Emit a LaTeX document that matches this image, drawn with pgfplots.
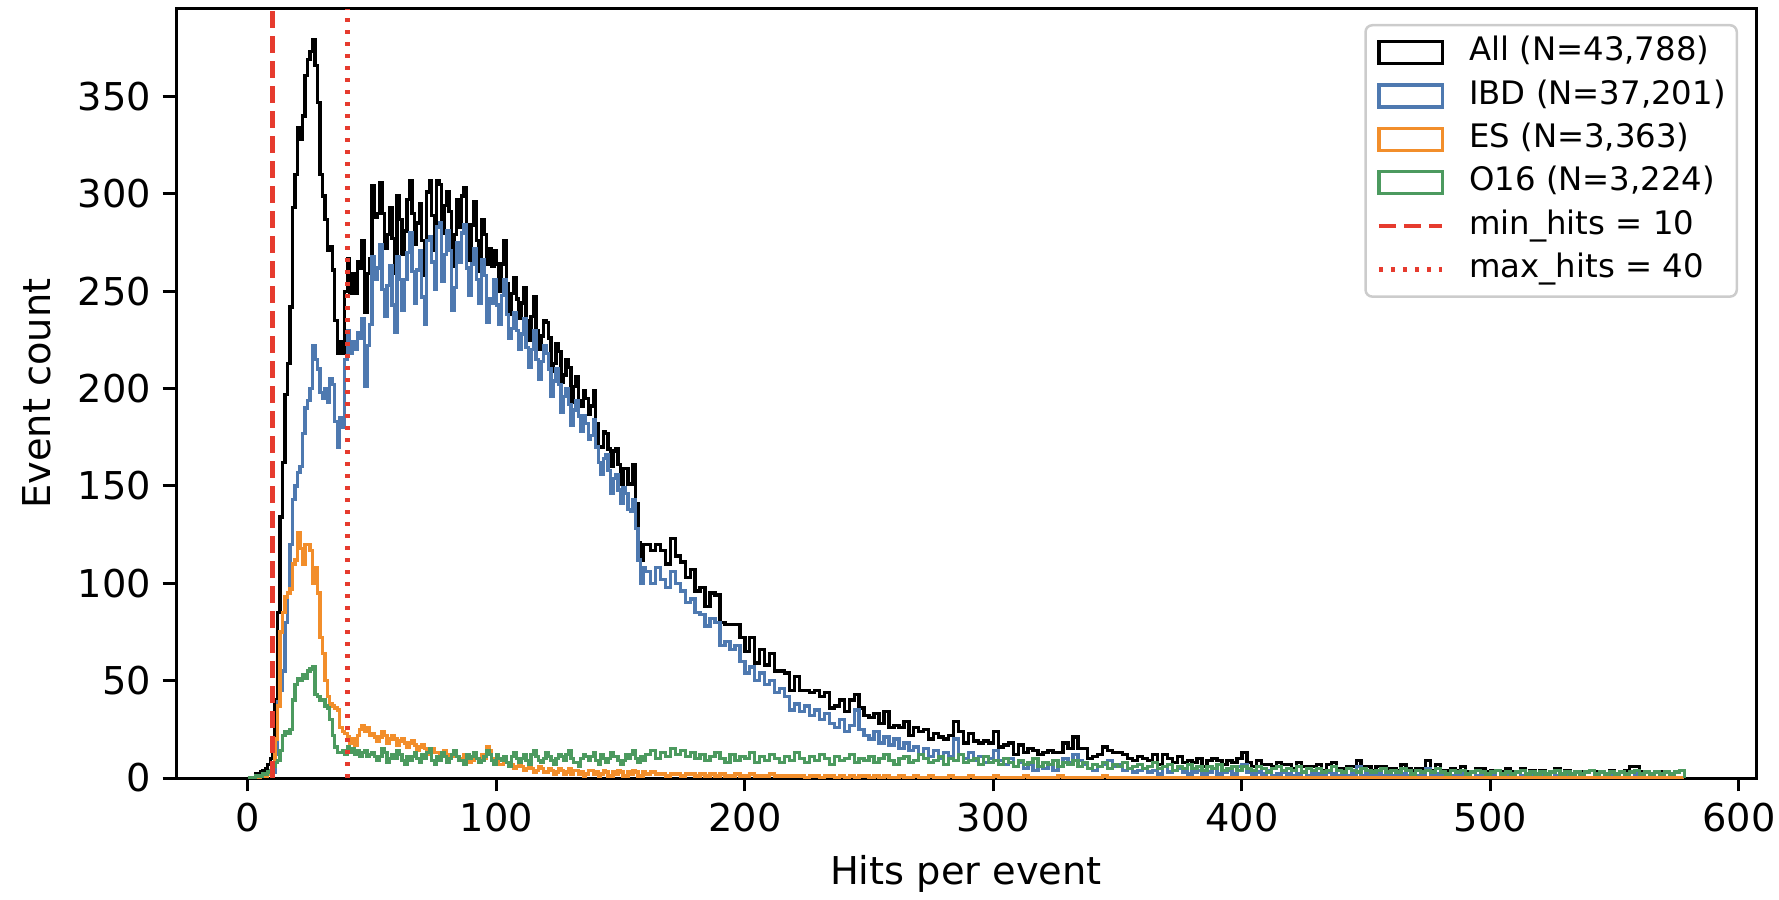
\documentclass[border=0pt]{standalone}
\usepackage{fontspec}
\setmainfont{DejaVu Sans}
\usepackage{pgfplots}
\usepackage{pgfplotstable}
\pgfplotsset{compat=1.18}
\usetikzlibrary{calc}
\definecolor{ibdblue}{HTML}{4E79B0}
\definecolor{esorange}{HTML}{F28E2B}
\definecolor{ogreen}{HTML}{4C9A5F}
\definecolor{cutred}{HTML}{E63B2E}
\definecolor{legframe}{gray}{0.8}
\pgfplotsset{
  histleg/.style={legend image code/.code={\draw[##1, sharp corners] (0pt,-3.3pt) rectangle (19pt,3.3pt);}},
  lineleg/.style={legend image code/.code={\draw[##1, sharp corners] (0pt,0pt) -- (19pt,0pt);}},
}
\pgfplotstableread{
x all ibd es o16
0 0 0 0 0
1 0 0 0 0
2 0 0 0 0
3 2 1 0 1
4 2 1 0 1
5 3 1 1 1
6 4 1 1 2
7 5 2 1 2
8 7 2 2 3
9 10 3 3 4
10 17 3 8 6
11 40 12 20 8
12 85 39 37 9
13 134 45 75 14
14 162 55 85 22
15 197 80 93 24
16 213 95 95 23
17 242 120 97 25
18 293 143 110 40
19 310 150 112 48
20 334 157 126 51
21 328 160 118 50
22 340 177 110 53
23 361 190 120 51
24 369 194 120 55
25 373 200 117 56
26 379 222 100 57
27 366 215 108 43
28 347 210 95 42
29 310 198 72 40
30 299 195 64 40
31 287 200 50 37
32 271 193 42 36
33 273 205 38 30
34 261 202 37 22
35 235 183 36 16
36 218 170 35 13
37 224 185 26 13
38 218 180 24 14
39 250 215 23 12
40 267 230 21 16
41 249 218 18 13
42 259 224 20 15
43 249 220 17 12
44 265 229 22 14
45 262 226 25 11
46 276 236 27 13
47 239 201 24 14
48 259 222 26 11
49 267 233 22 12
50 304 268 23 13
51 288 256 21 11
52 290 262 19 9
53 306 274 21 11
54 290 251 24 15
55 272 237 22 13
56 279 253 18 8
57 293 263 20 10
58 277 243 22 12
59 259 229 20 10
60 299 268 17 14
61 287 256 19 12
62 269 240 20 9
63 281 256 18 7
64 297 270 16 11
65 307 280 18 9
66 290 260 19 11
67 274 244 17 13
68 285 261 14 10
69 295 271 16 8
70 276 247 17 12
71 258 233 15 10
72 301 276 12 13
73 307 278 14 15
74 289 265 15 9
75 271 251 13 7
76 307 283 13 11
77 305 285 11 9
78 280 255 12 13
79 294 269 14 11
80 301 281 12 8
81 291 271 10 10
82 263 240 11 12
83 279 252 13 14
84 297 275 11 11
85 283 265 9 9
86 299 280 10 9
87 303 284 12 7
88 284 262 10 12
89 266 248 8 10
90 284 264 9 11
91 296 272 11 13
92 276 256 10 10
93 260 244 8 8
94 287 266 12 9
95 279 258 10 11
96 264 234 16 14
97 272 246 14 12
98 263 244 10 9
99 271 256 8 7
100 264 243 9 12
101 250 233 7 10
102 264 248 7 9
103 276 256 9 11
104 254 238 8 8
105 238 226 6 6
106 249 231 7 11
107 257 239 5 13
108 246 230 6 10
109 236 220 8 8
110 244 228 6 10
111 252 236 4 12
112 235 221 5 9
113 225 211 7 7
114 237 220 5 12
115 247 230 3 14
116 230 215 4 11
117 220 205 6 9
118 227 214 5 8
119 235 222 3 10
120 234 218 3 13
121 226 210 5 11
122 209 196 4 9
123 213 204 2 7
124 223 210 3 10
125 219 202 5 12
126 203 188 4 11
127 207 196 2 9
128 215 200 3 12
129 211 192 5 14
130 193 181 2 10
131 201 189 4 8
132 206 194 4 8
133 194 186 2 6
134 191 178 3 10
135 199 186 1 12
136 195 182 2 11
137 187 174 4 9
138 191 176 4 11
139 199 184 2 13
140 182 170 3 9
141 170 162 1 7
142 170 156 2 12
143 178 164 4 10
144 177 166 3 8
145 169 158 1 10
146 160 146 1 13
147 168 154 3 11
148 169 156 2 11
149 161 148 4 9
150 151 141 3 7
151 159 149 1 9
152 159 146 1 12
153 151 138 3 10
154 151 137 2 12
155 161 143 4 14
156 141 128 3 10
157 121 112 1 8
158 112 100 1 11
159 120 108 3 9
160 120 106 2 12
162 117 100 3 14
164 120 108 2 10
166 117 102 2 13
168 110 98 1 11
170 123 106 2 15
172 114 100 2 12
174 111 96 1 14
176 103 90 2 11
178 107 92 2 13
180 96 85 1 10
182 98 84 2 12
184 88 78 1 9
186 95 82 2 11
188 94 80 1 13
190 80 68 2 10
192 79 70 1 8
194 79 66 1 12
196 79 68 2 9
198 72 60 1 11
200 65 54 1 10
202 72 57 2 13
204 59 50 1 8
206 66 54 1 11
208 58 48 1 9
210 64 50 2 12
212 55 44 1 10
214 55 46 1 8
216 54 42 1 11
218 45 35 1 9
220 52 38 1 13
222 45 34 1 10
224 45 37 0 8
226 44 32 1 11
228 45 35 1 9
230 42 30 0 12
232 44 33 1 10
234 36 28 1 7
236 37 26 0 11
238 40 30 1 9
240 34 24 0 10
242 40 27 1 12
244 43 35 0 8
246 36 25 1 10
248 32 22 1 9
250 31 20 0 11
252 33 24 1 8
254 28 18 0 10
256 34 21 1 12
258 26 17 0 9
260 27 20 0 7
262 26 15 1 10
264 29 18 0 11
266 22 14 0 8
268 26 16 1 9
270 24 12 0 12
272 25 15 0 10
274 20 11 1 8
276 23 14 0 9
278 21 10 0 11
280 20 13 0 7
282 22 11 1 10
284 29 20 0 9
286 24 12 0 12
288 18 10 0 8
290 23 13 1 9
292 19 9 0 10
294 18 11 0 7
296 19 8 0 11
298 18 10 0 8
300 24 14 1 9
302 16 9 0 7
304 17 7 0 10
306 18 10 0 8
308 12 6 0 6
310 17 8 0 9
312 13 5 1 7
314 15 7 0 8
316 14 4 0 10
318 12 6 0 6
320 13 5 0 8
322 14 7 0 7
324 13 4 0 9
326 13 6 1 6
328 18 10 0 8
330 15 8 0 7
332 21 12 0 9
334 15 9 0 6
336 15 7 0 8
338 10 5 0 5
340 11 4 0 7
342 12 6 0 6
344 16 7 1 8
346 14 9 0 5
348 13 6 0 7
350 13 7 0 6
352 12 4 0 8
354 10 5 0 5
356 9 3 0 6
358 11 4 0 7
360 10 5 0 5
362 9 3 0 6
364 12 4 0 8
366 7 2 0 5
368 12 6 0 6
370 10 3 0 7
372 8 4 0 4
374 11 5 0 6
376 8 3 0 5
378 9 2 0 7
380 8 3 0 5
382 10 4 0 6
384 6 2 0 4
386 9 3 0 6
388 10 5 0 5
390 9 2 0 7
392 7 3 0 4
394 9 4 0 5
396 8 2 0 6
398 10 6 0 4
400 13 7 0 6
402 8 3 0 5
404 6 2 0 4
406 9 3 0 6
408 7 2 0 5
410 7 4 0 3
412 6 1 0 5
414 8 2 0 6
416 7 3 0 4
418 7 2 0 5
420 5 1 0 4
422 8 2 0 6
424 6 3 0 3
426 6 1 0 5
428 6 2 0 4
430 7 2 0 5
432 4 1 0 3
434 7 3 0 4
436 8 2 0 6
438 5 1 0 4
440 5 2 0 3
442 6 1 0 5
444 6 2 0 4
446 9 6 0 3
448 6 1 0 5
450 6 2 0 4
452 4 1 0 3
454 6 2 0 4
456 6 1 0 5
458 5 2 0 3
460 5 1 0 4
462 4 1 0 3
464 7 2 0 5
466 5 1 0 4
468 4 2 0 2
470 5 1 0 4
472 5 2 0 3
474 9 5 0 4
476 4 1 0 3
478 7 2 0 5
480 4 1 0 3
482 4 2 0 2
484 5 1 0 4
486 4 1 0 3
488 6 2 0 4
490 3 1 0 2
492 3 0 0 3
494 5 1 0 4
496 5 2 0 3
498 3 1 0 2
500 4 1 0 3
502 4 0 0 4
504 3 1 0 2
506 5 2 0 3
508 3 1 0 2
510 3 0 0 3
512 5 1 0 4
514 2 0 0 2
516 4 1 0 3
518 2 0 0 2
520 4 1 0 3
522 2 0 0 2
524 3 0 0 3
526 5 1 0 4
528 2 0 0 2
530 4 1 0 3
532 2 0 0 2
534 3 0 0 3
536 3 1 0 2
538 3 0 0 3
540 4 0 0 4
542 3 1 0 2
544 3 0 0 3
546 2 0 0 2
548 4 1 0 3
550 2 0 0 2
552 3 0 0 3
554 4 2 0 2
556 6 3 0 3
558 6 2 0 4
560 3 1 0 2
562 3 0 0 3
564 2 0 0 2
566 3 0 0 3
568 3 1 0 2
570 3 0 0 3
572 2 0 0 2
574 3 0 0 3
576 4 0 0 4
578 0 0 0 0
}\histdata
\newcommand{\fs}{\fontsize{9.7}{11.6}\selectfont}
\newcommand{\fl}{\fontsize{11.5}{13.8}\selectfont}
\begin{document}
\begin{tikzpicture}
\begin{axis}[
  scale only axis,
  width=474pt, height=230.7pt,
  xmin=-28.9, xmax=606.9,
  ymin=0, ymax=395,
  xtick={0,100,200,300,400,500,600},
  ytick={0,50,100,150,200,250,300,350},
  tick pos=left,
  tick align=outside,
  major tick length=4pt,
  tick style={black, line width=0.9pt},
  axis line style={line width=0.9pt},
  /pgf/number format/assume math mode=true,
  tick label style={font=\fl},
  label style={font=\fl},
  xlabel={Hits per event},
  ylabel={Event count},
  xlabel style={at={(axis description cs:0.5,-0.1244)}, anchor=center},
  ylabel style={at={(axis description cs:-0.0878,0.5)}, anchor=center},
  legend cell align=left,
  histleg,
  legend style={
    at={(0.9886,0.9805)}, anchor=north east,
    font=\fs,
    draw=legframe, line width=0.75pt, rounded corners=2pt,
    fill=white, fill opacity=0.8, text opacity=1,
    inner xsep=3.3pt, inner ysep=3.5pt,
    row sep=3.6pt,
    nodes={inner sep=0pt, text height=7.2pt, text depth=2.2pt},
    /tikz/every odd column/.append style={column sep=7.4pt},
  },
]
\addplot[const plot mark left, black, line width=1pt] table[x=x, y=all] {\histdata};
\addlegendentry{All (N=43,788)}
\addplot[const plot mark left, ibdblue, line width=1pt] table[x=x, y=ibd] {\histdata};
\addlegendentry{IBD (N=37,201)}
\addplot[const plot mark left, esorange, line width=1pt] table[x=x, y=es] {\histdata};
\addlegendentry{ES (N=3,363)}
\addplot[const plot mark left, ogreen, line width=1pt] table[x=x, y=o16] {\histdata};
\addlegendentry{O16 (N=3,224)}
\addplot[cutred, line width=1.4pt, dash pattern=on 5.2pt off 2.3pt, lineleg]
  coordinates {(10,0) (10,395)};
\addlegendentry{min\_hits = 10}
\addplot[cutred, line width=1.4pt, dash pattern=on 1.3pt off 2.3pt, lineleg]
  coordinates {(40,0) (40,395)};
\addlegendentry{max\_hits = 40}
\end{axis}
\pgfresetboundingbox
\path ($(current axis.south west)+(-52.8pt,-36.3pt)$) rectangle ($(current axis.north east)+(6.9pt,2.7pt)$);
\end{tikzpicture}
\end{document}
